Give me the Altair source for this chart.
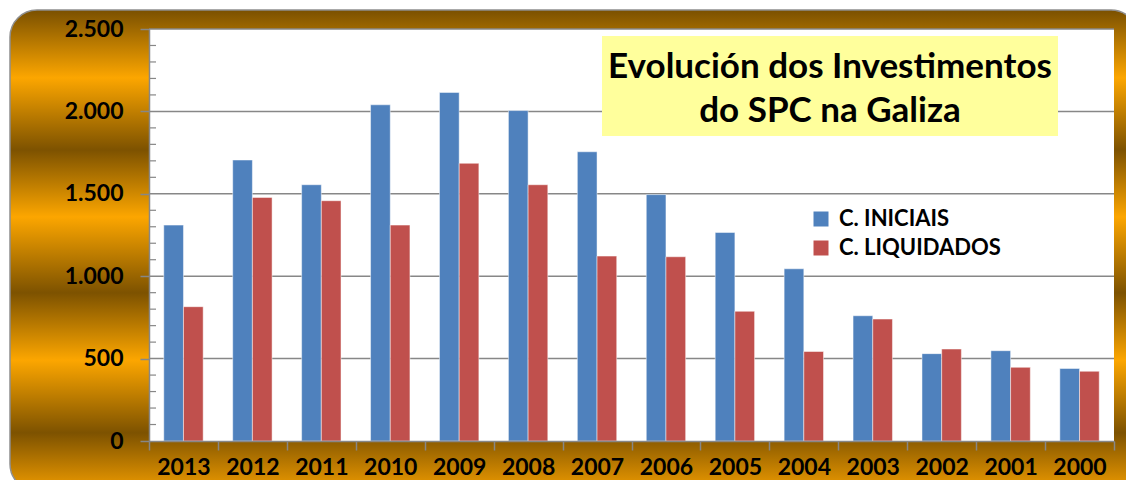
import altair as alt
import pandas as pd

years = ["2013", "2012", "2011", "2010", "2009", "2008", "2007",
         "2006", "2005", "2004", "2003", "2002", "2001", "2000"]
iniciais = [1310, 1705, 1555, 2040, 2115, 2005, 1755, 1495, 1265, 1045, 760, 530, 548, 440]
liquidados = [815, 1478, 1458, 1310, 1685, 1555, 1122, 1118, 787, 543, 740, 558, 447, 423]
series = ["C. INICIAIS", "C. LIQUIDADOS"]
colors = ["#4f81bd", "#c0504d"]
title_lines = ["Evolución dos Investimentos", "do SPC na Galiza"]
y_ticks = [0, 500, 1000, 1500, 2000, 2500]
y_minor = [v for v in range(100, 2500, 100) if v % 500 != 0]

W, H = 965, 412
FONT = "Lato"

rows = []
for i, yr in enumerate(years):
    rows.append({"ano": yr, "serie": series[0], "valor": iniciais[i]})
    rows.append({"ano": yr, "serie": series[1], "valor": liquidados[i]})
df = pd.DataFrame(rows)
grid_df = pd.DataFrame({"valor": y_ticks[1:]})
minor_df = pd.DataFrame({"valor": y_minor})
one = pd.DataFrame({"k": [0]})

yscale = alt.Scale(domain=[0, 2500], nice=False)
yaxis = alt.Axis(values=y_ticks, grid=False, labelFont=FONT, labelFontSize=23,
                 labelFontWeight="bold", labelColor="black", labelPadding=17,
                 labelExpr="replace(format(datum.value, ','), ',', '.')",
                 tickSize=9, tickColor="#878787", tickWidth=1.5,
                 domainColor="#878787", domainWidth=1.5, zindex=1)

gold = {
    "gradient": "linear", "x1": 0, "y1": 0, "x2": 0, "y2": 1,
    "stops": [
        {"offset": 0.0, "color": "#7a5000"},
        {"offset": 0.141, "color": "#fca600"},
        {"offset": 0.291, "color": "#7d5200"},
        {"offset": 0.430, "color": "#fca600"},
        {"offset": 0.588, "color": "#7d5200"},
        {"offset": 0.728, "color": "#fca600"},
        {"offset": 0.879, "color": "#7d5200"},
        {"offset": 1.0, "color": "#f09c00"},
    ],
}

bg = alt.Chart(one).mark_rect(fill=gold, stroke="#8f8f8f", strokeWidth=1.5, cornerRadius=27).encode(
    x=alt.value(-139), x2=alt.value(W + 24), y=alt.value(-19), y2=alt.value(H + 50)
)
plot_bg = alt.Chart(one).mark_rect(fill="white").encode(
    x=alt.value(0), x2=alt.value(W), y=alt.value(0), y2=alt.value(H)
)
grid = alt.Chart(grid_df).mark_rule(color="#878787", strokeWidth=1.5).encode(
    y=alt.Y("valor:Q", scale=yscale, axis=yaxis, title=None)
)
minor = alt.Chart(minor_df).mark_rule(color="#878787", strokeWidth=1.2).encode(
    x=alt.value(0), x2=alt.value(7), y=alt.Y("valor:Q", scale=yscale, axis=yaxis, title=None)
)

bars = alt.Chart(df).mark_bar(stroke="#ffffff", strokeWidth=0.8, strokeOpacity=0.6).encode(
    x=alt.X("ano:N", sort=years, title=None,
            scale=alt.Scale(paddingInner=0, paddingOuter=0),
            axis=alt.Axis(tickBand="extent", labelAngle=0, labelFont=FONT, labelFontSize=23,
                          labelFontWeight="bold", labelColor="black", labelPadding=6,
                          tickSize=9, tickColor="#878787", tickWidth=1.5,
                          domainColor="#878787", domainWidth=1.5, zindex=1)),
    xOffset=alt.XOffset("serie:N", sort=series,
                        scale=alt.Scale(paddingInner=0, paddingOuter=0.75)),
    y=alt.Y("valor:Q", scale=yscale, title=None, axis=yaxis),
    color=alt.Color("serie:N", sort=series, scale=alt.Scale(domain=series, range=colors),
                    legend=alt.Legend(title=None, orient="none", legendX=661, legendY=179,
                                      symbolType="square", symbolSize=225, symbolStrokeWidth=0,
                                      labelFont=FONT, labelFontSize=22, labelFontWeight="bold",
                                      labelColor="black", labelOffset=7, rowPadding=7,
                                      padding=0, labelLimit=400)),
)

title_box = alt.Chart(one).mark_rect(fill="#ffff9c").encode(
    x=alt.value(453), x2=alt.value(909), y=alt.value(7), y2=alt.value(107)
)
title_text = alt.Chart(one).mark_text(
    align="center", baseline="middle", font=FONT, fontSize=35, fontWeight="bold",
    color="black", lineHeight=44
).encode(x=alt.value(681), y=alt.value(38), text=alt.value(title_lines))

chart = alt.layer(bg, plot_bg, grid, minor, bars, title_box, title_text).properties(
    width=W, height=H,
    autosize=alt.AutoSizeParams(type="none"),
    padding={"left": 141, "top": 21, "right": 12, "bottom": 39},
).configure_view(stroke=None).configure(background="white")

chart.save("out.html", embed_options={"renderer": "svg", "actions": False})
